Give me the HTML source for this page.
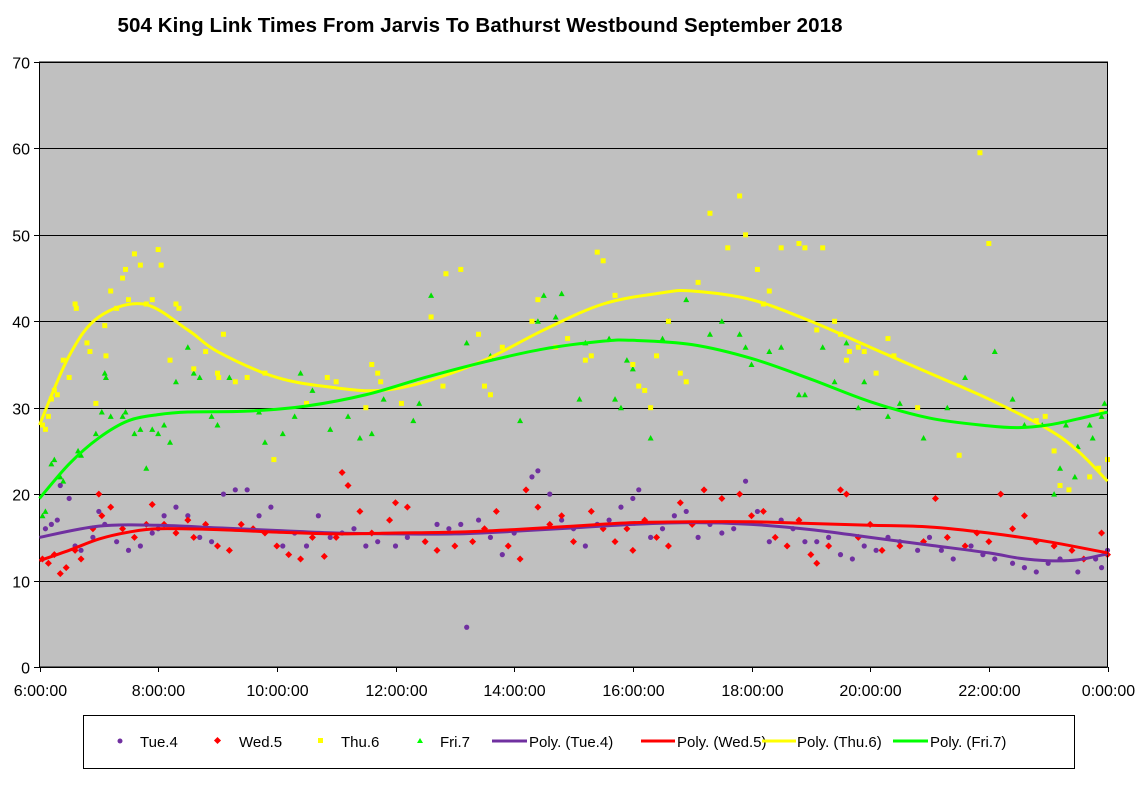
<!DOCTYPE html>
<html><head><meta charset="utf-8"><style>
body{margin:0;background:#fff;}
svg text{font-family:"Liberation Sans",Arial,sans-serif;}
</style></head><body>
<svg id="chart" width="1140" height="780" xmlns="http://www.w3.org/2000/svg">
<rect width="1140" height="780" fill="#fff"/>
<text x="480" y="32" text-anchor="middle" font-size="20.5" font-weight="bold" textLength="725">504 King Link Times From Jarvis To Bathurst Westbound September 2018</text>
<rect x="39.5" y="62" width="1068" height="605" fill="#c0c0c0"/>
<g id="grid"></g>
<g id="axes"></g>
<g id="trends"></g>
<g id="marks"></g>
<rect x="39.5" y="62" width="1068" height="605" fill="none" stroke="#000" stroke-width="1"/>
<g font-size="15">
<rect x="83.5" y="715.5" width="991" height="53" fill="#fff" stroke="#000"/>
<circle cx="120" cy="741" r="2.5" fill="#7030a0"/>
<text x="140" y="747">Tue.4</text>
<rect x="215" y="738" width="5" height="5" fill="#f00" transform="rotate(45 217.5 740.5)"/>
<text x="239" y="747">Wed.5</text>
<rect x="318" y="738" width="5" height="5" fill="#ff0"/>
<text x="341" y="747">Thu.6</text>
<polygon points="420,738 417,743 423,743" fill="#0f0"/>
<text x="440" y="747">Fri.7</text>
<line x1="492" y1="741" x2="527" y2="741" stroke="#7030a0" stroke-width="3"/>
<text x="529" y="747">Poly. (Tue.4)</text>
<line x1="641" y1="741" x2="675" y2="741" stroke="#f00" stroke-width="3"/>
<text x="677" y="747">Poly. (Wed.5)</text>
<line x1="762" y1="741" x2="796" y2="741" stroke="#ff0" stroke-width="3"/>
<text x="797" y="747">Poly. (Thu.6)</text>
<line x1="893" y1="741" x2="928" y2="741" stroke="#0f0" stroke-width="3"/>
<text x="930" y="747">Poly. (Fri.7)</text>
</g>
</svg>
<script>
const yTicks=[0,10,20,30,40,50,60,70];
const xTicks=[6,8,10,12,14,16,18,20,22,24];
const xTickLabels=["6:00:00","8:00:00","10:00:00","12:00:00","14:00:00","16:00:00","18:00:00","20:00:00","22:00:00","0:00:00"];
const tueData=[[6.1,16],[6.2,16.5],[6.3,17],[6.35,21],[6.5,19.5],[6.6,14],[6.7,13.5],[6.9,15],[7.0,18],[7.1,16.5],[7.3,14.5],[7.5,13.5],[7.7,14],[7.9,15.5],[8.0,16],[8.1,17.5],[8.3,18.5],[8.5,17.5],[8.7,15],[8.9,14.5],[9.1,20],[9.3,20.5],[9.5,20.5],[9.7,17.5],[9.9,18.5],[10.1,14],[10.3,15.5],[10.5,14],[10.7,17.5],[10.9,15],[11.1,15.5],[11.3,16],[11.5,14],[11.7,14.5],[12.0,14],[12.2,15],[12.5,14.5],[12.7,16.5],[12.9,16],[13.1,16.5],[13.2,4.6],[13.4,17],[13.6,15],[13.8,13],[14.0,15.5],[14.3,22],[14.4,22.7],[14.6,20],[14.8,17],[15.0,16],[15.2,14],[15.4,16.5],[15.6,17],[15.8,18.5],[16.0,19.5],[16.1,20.5],[16.3,15],[16.5,16],[16.7,17.5],[16.9,18],[17.1,15],[17.3,16.5],[17.5,15.5],[17.7,16],[17.9,21.5],[18.1,18],[18.3,14.5],[18.5,17],[18.7,16],[18.9,14.5],[19.1,14.5],[19.3,15],[19.5,13],[19.7,12.5],[19.9,14],[20.1,13.5],[20.3,15],[20.5,14.5],[20.8,13.5],[21.0,15],[21.2,13.5],[21.4,12.5],[21.7,14],[21.9,13],[22.1,12.5],[22.4,12],[22.6,11.5],[22.8,11],[23.0,12],[23.2,12.5],[23.5,11],[23.8,12.5],[23.9,11.5],[24.0,13.5]];
const wedData=[[6.05,12.5],[6.15,12],[6.25,13],[6.35,10.8],[6.45,11.5],[6.6,13.5],[6.7,12.5],[6.9,16],[7.0,20],[7.05,17.5],[7.2,18.5],[7.4,16],[7.6,15],[7.8,16.5],[7.9,18.8],[8.1,16.5],[8.3,15.5],[8.5,17],[8.6,15],[8.8,16.5],[9.0,14],[9.2,13.5],[9.4,16.5],[9.6,16],[9.8,15.5],[10.0,14],[10.2,13],[10.4,12.5],[10.6,15],[10.8,12.8],[11.0,15],[11.1,22.5],[11.2,21],[11.4,18],[11.6,15.5],[11.9,17],[12.0,19],[12.2,18.5],[12.5,14.5],[12.7,13.5],[13.0,14],[13.3,14.5],[13.5,16],[13.7,18],[13.9,14],[14.1,12.5],[14.2,20.5],[14.4,18.5],[14.6,16.5],[14.8,17.5],[15.0,14.5],[15.3,18],[15.5,16],[15.7,14.5],[15.9,16],[16.0,13.5],[16.2,17],[16.4,15],[16.6,14],[16.8,19],[17.0,16.5],[17.2,20.5],[17.5,19.5],[17.8,20],[18.0,17.5],[18.2,18],[18.4,15],[18.6,14],[18.8,17],[19.0,13],[19.1,12],[19.3,14],[19.5,20.5],[19.6,20],[19.8,15],[20.0,16.5],[20.2,13.5],[20.5,14],[20.9,14.5],[21.1,19.5],[21.3,15],[21.6,14],[21.8,15.5],[22.0,14.5],[22.2,20],[22.4,16],[22.6,17.5],[22.8,14.5],[23.1,14],[23.4,13.5],[23.6,12.5],[23.9,15.5],[24.0,13]];
const thuData=[[6.05,28],[6.1,27.5],[6.15,29],[6.2,31],[6.25,32],[6.3,31.5],[6.4,35.5],[6.5,33.5],[6.6,42],[6.62,41.5],[6.8,37.5],[6.85,36.5],[6.95,30.5],[7.1,39.5],[7.12,36],[7.2,43.5],[7.3,41.5],[7.4,45],[7.45,46],[7.5,42.5],[7.6,47.8],[7.7,46.5],[7.8,42],[7.9,42.5],[8.0,48.3],[8.05,46.5],[8.2,35.5],[8.3,42],[8.35,41.5],[8.6,34.5],[8.8,36.5],[9.0,34],[9.1,38.5],[9.02,33.5],[9.3,33],[9.5,33.5],[9.8,34],[9.95,24],[10.5,30.5],[10.85,33.5],[11.0,33],[11.5,30],[11.6,35],[11.7,34],[11.75,33],[12.1,30.5],[12.6,40.5],[12.8,32.5],[12.85,45.5],[13.1,46],[13.4,38.5],[13.5,32.5],[13.6,31.5],[13.8,37],[14.3,40],[14.4,42.5],[14.7,37],[14.9,38],[15.2,35.5],[15.3,36],[15.4,48],[15.5,47],[15.7,43],[16.0,35],[16.1,32.5],[16.2,32],[16.3,30],[16.4,36],[16.6,40],[16.8,34],[16.9,33],[17.1,44.5],[17.3,52.5],[17.6,48.5],[17.8,54.5],[17.9,50],[18.1,46],[18.2,42],[18.3,43.5],[18.5,48.5],[18.8,49],[18.9,48.5],[19.1,39],[19.2,48.5],[19.4,40],[19.5,38.5],[19.6,35.5],[19.65,36.5],[19.8,37],[19.9,36.5],[20.1,34],[20.3,38],[20.4,36],[20.8,30],[21.5,24.5],[21.85,59.5],[22.0,49],[22.8,28.5],[22.95,29],[23.1,25],[23.2,21],[23.35,20.5],[23.7,22],[23.85,23],[24.0,24],[23.9,29.5]];
const friData=[[6.05,17.5],[6.1,18],[6.2,23.5],[6.25,24],[6.35,22],[6.4,21.5],[6.65,25],[6.7,24.5],[6.95,27],[7.05,29.5],[7.1,34],[7.12,33.5],[7.2,29],[7.4,29],[7.45,29.5],[7.6,27],[7.7,27.5],[7.8,23],[7.9,27.5],[8.0,27],[8.1,28],[8.2,26],[8.3,33],[8.5,37],[8.6,34],[8.7,33.5],[8.9,29],[9.0,28],[9.2,33.5],[9.7,29.5],[9.8,26],[10.1,27],[10.3,29],[10.4,34],[10.6,32],[10.9,27.5],[11.2,29],[11.4,26.5],[11.6,27],[11.8,31],[12.3,28.5],[12.4,30.5],[12.6,43],[13.2,37.5],[13.6,36],[14.1,28.5],[14.4,40],[14.5,43],[14.7,40.5],[14.8,43.2],[15.1,31],[15.2,37.5],[15.6,38],[15.7,31],[15.8,30],[15.9,35.5],[16.0,34.5],[16.3,26.5],[16.5,38],[16.6,40],[16.9,42.5],[17.3,38.5],[17.5,40],[17.8,38.5],[17.9,37],[18.0,35],[18.3,36.5],[18.5,37],[18.8,31.5],[18.9,31.5],[19.2,37],[19.4,33],[19.6,37.5],[19.8,30],[19.9,33],[20.3,29],[20.5,30.5],[20.9,26.5],[21.3,30],[21.6,33.5],[22.1,36.5],[22.4,31],[22.6,28],[22.9,28],[23.1,20],[23.3,28],[23.5,25.5],[23.7,28],[23.9,29],[23.95,30.5],[23.75,26.5],[23.2,23],[23.45,22]];
const tueTrend=[[6,15],[7,16.3],[8,16.4],[9,16.1],[10,15.8],[11,15.5],[12,15.4],[13,15.4],[14,15.7],[15,16.1],[16,16.5],[17,16.7],[18,16.5],[19,15.9],[20,15],[21,14.1],[22,13.2],[22.5,12.6],[23,12.3],[23.5,12.4],[24,13.1]];
const wedTrend=[[6,12.3],[6.5,13.5],[7,14.8],[7.5,15.6],[8,16],[9,15.9],[10,15.6],[11,15.4],[12,15.5],[13,15.6],[14,15.9],[15,16.3],[16,16.7],[17,16.8],[18,16.8],[19,16.6],[20,16.4],[21,16.2],[22,15.5],[23,14.5],[24,13.2]];
const thuTrend=[[6,28],[6.5,36],[7,40.5],[7.75,42],[8.5,39],[9,36.5],[10,33.5],[11,32.3],[11.75,32],[12.5,33],[13.5,35.5],[14.5,39],[15.5,42],[16.5,43.3],[17,43.5],[18,42.5],[19,40],[20,37],[21,34],[22,31],[23,27.5],[23.5,25],[24,21.5]];
const friTrend=[[6,19.5],[6.5,23.5],[7,26.5],[7.5,28.5],[8,29.2],[8.5,29.5],[9.5,29.6],[10.5,30.2],[11.5,31.5],[12.5,33.5],[13.5,35.3],[14.5,36.8],[15.5,37.7],[16,37.8],[17,37.3],[18,35.7],[19,33.3],[20,30.7],[21,28.8],[22,27.9],[22.5,27.7],[23,28],[23.5,28.7],[24,29.5]];

const NS="http://www.w3.org/2000/svg";
const X0=39.5,X1=1107.5,Y0=667,Y1=62;
function xs(h){return X0+(h-6)/18*(X1-X0);}
function ys(v){return Y0-v/70*(Y0-Y1);}
function mk(tag,attrs,parent){const e=document.createElementNS(NS,tag);for(const k in attrs)e.setAttribute(k,attrs[k]);parent.appendChild(e);return e;}
const grid=document.getElementById('grid'),axes=document.getElementById('axes'),trends=document.getElementById('trends'),marks=document.getElementById('marks');
yTicks.forEach(v=>{
  const y=Math.round(ys(v))+0.5;
  const l=mk('line',{x1:34,x2:X1,y1:y,y2:y,stroke:'#000','stroke-width':1},grid);
  
  
  const t=mk('text',{x:30,y:y+6,'text-anchor':'end','font-size':16},axes);
  t.textContent=v;
  
  
});
xTicks.forEach((h,i)=>{
  const x=Math.round(xs(h))+0.5;
  const l=mk('line',{x1:x,x2:x,y1:Y0,y2:Y0+5,stroke:'#000'},axes);
  
  
  const t=mk('text',{x:x,y:696,'text-anchor':'middle','font-size':16},axes);
  t.textContent=xTickLabels[i];
  
  
});
function smooth(pts){
  const p=pts.map(d=>[xs(d[0]),ys(d[1])]);
  let s='M'+p[0][0]+','+p[0][1];
  for(let i=0;i<p.length-1;i++){
    const a=p[i-1]||p[i],b=p[i],c=p[i+1],d=p[i+2]||c;
    s+=' C'+(b[0]+(c[0]-a[0])/6)+','+(b[1]+(c[1]-a[1])/6)+' '+(c[0]-(d[0]-b[0])/6)+','+(c[1]-(d[1]-b[1])/6)+' '+c[0]+','+c[1];
  }
  return s;
}
function marker(type,color,h,v,name){
  const x=xs(h),y=ys(v);let e;
  if(type==='circle')e=mk('circle',{cx:x,cy:y,r:2.6,fill:color},marks);
  else if(type==='diamond')e=mk('polygon',{points:`${x},${y-3.5} ${x+3.5},${y} ${x},${y+3.5} ${x-3.5},${y}`,fill:color},marks);
  else if(type==='square')e=mk('rect',{x:x-2.5,y:y-2.5,width:5,height:5,fill:color},marks);
  else e=mk('polygon',{points:`${x},${y-3} ${x+3},${y+2.5} ${x-3},${y+2.5}`,fill:color},marks);
  
  
}
friData.forEach(d=>marker('tri','#00e000',d[0],d[1],'point-fri'));
thuData.forEach(d=>marker('square','#ffff00',d[0],d[1],'point-thu'));
tueData.forEach(d=>marker('circle','#7030a0',d[0],d[1],'point-tue'));
wedData.forEach(d=>marker('diamond','#ff0000',d[0],d[1],'point-wed'));
function trend(pts,color,name){
  const e=mk('path',{d:smooth(pts),fill:'none',stroke:color,'stroke-width':3},trends);
  
  
}
trends.parentNode.appendChild(trends);
trend(tueTrend,'#7030a0','trend-tue');
trend(wedTrend,'#ff0000','trend-wed');
trend(thuTrend,'#ffff00','trend-thu');
trend(friTrend,'#00ff00','trend-fri');
</script>
</body></html>
